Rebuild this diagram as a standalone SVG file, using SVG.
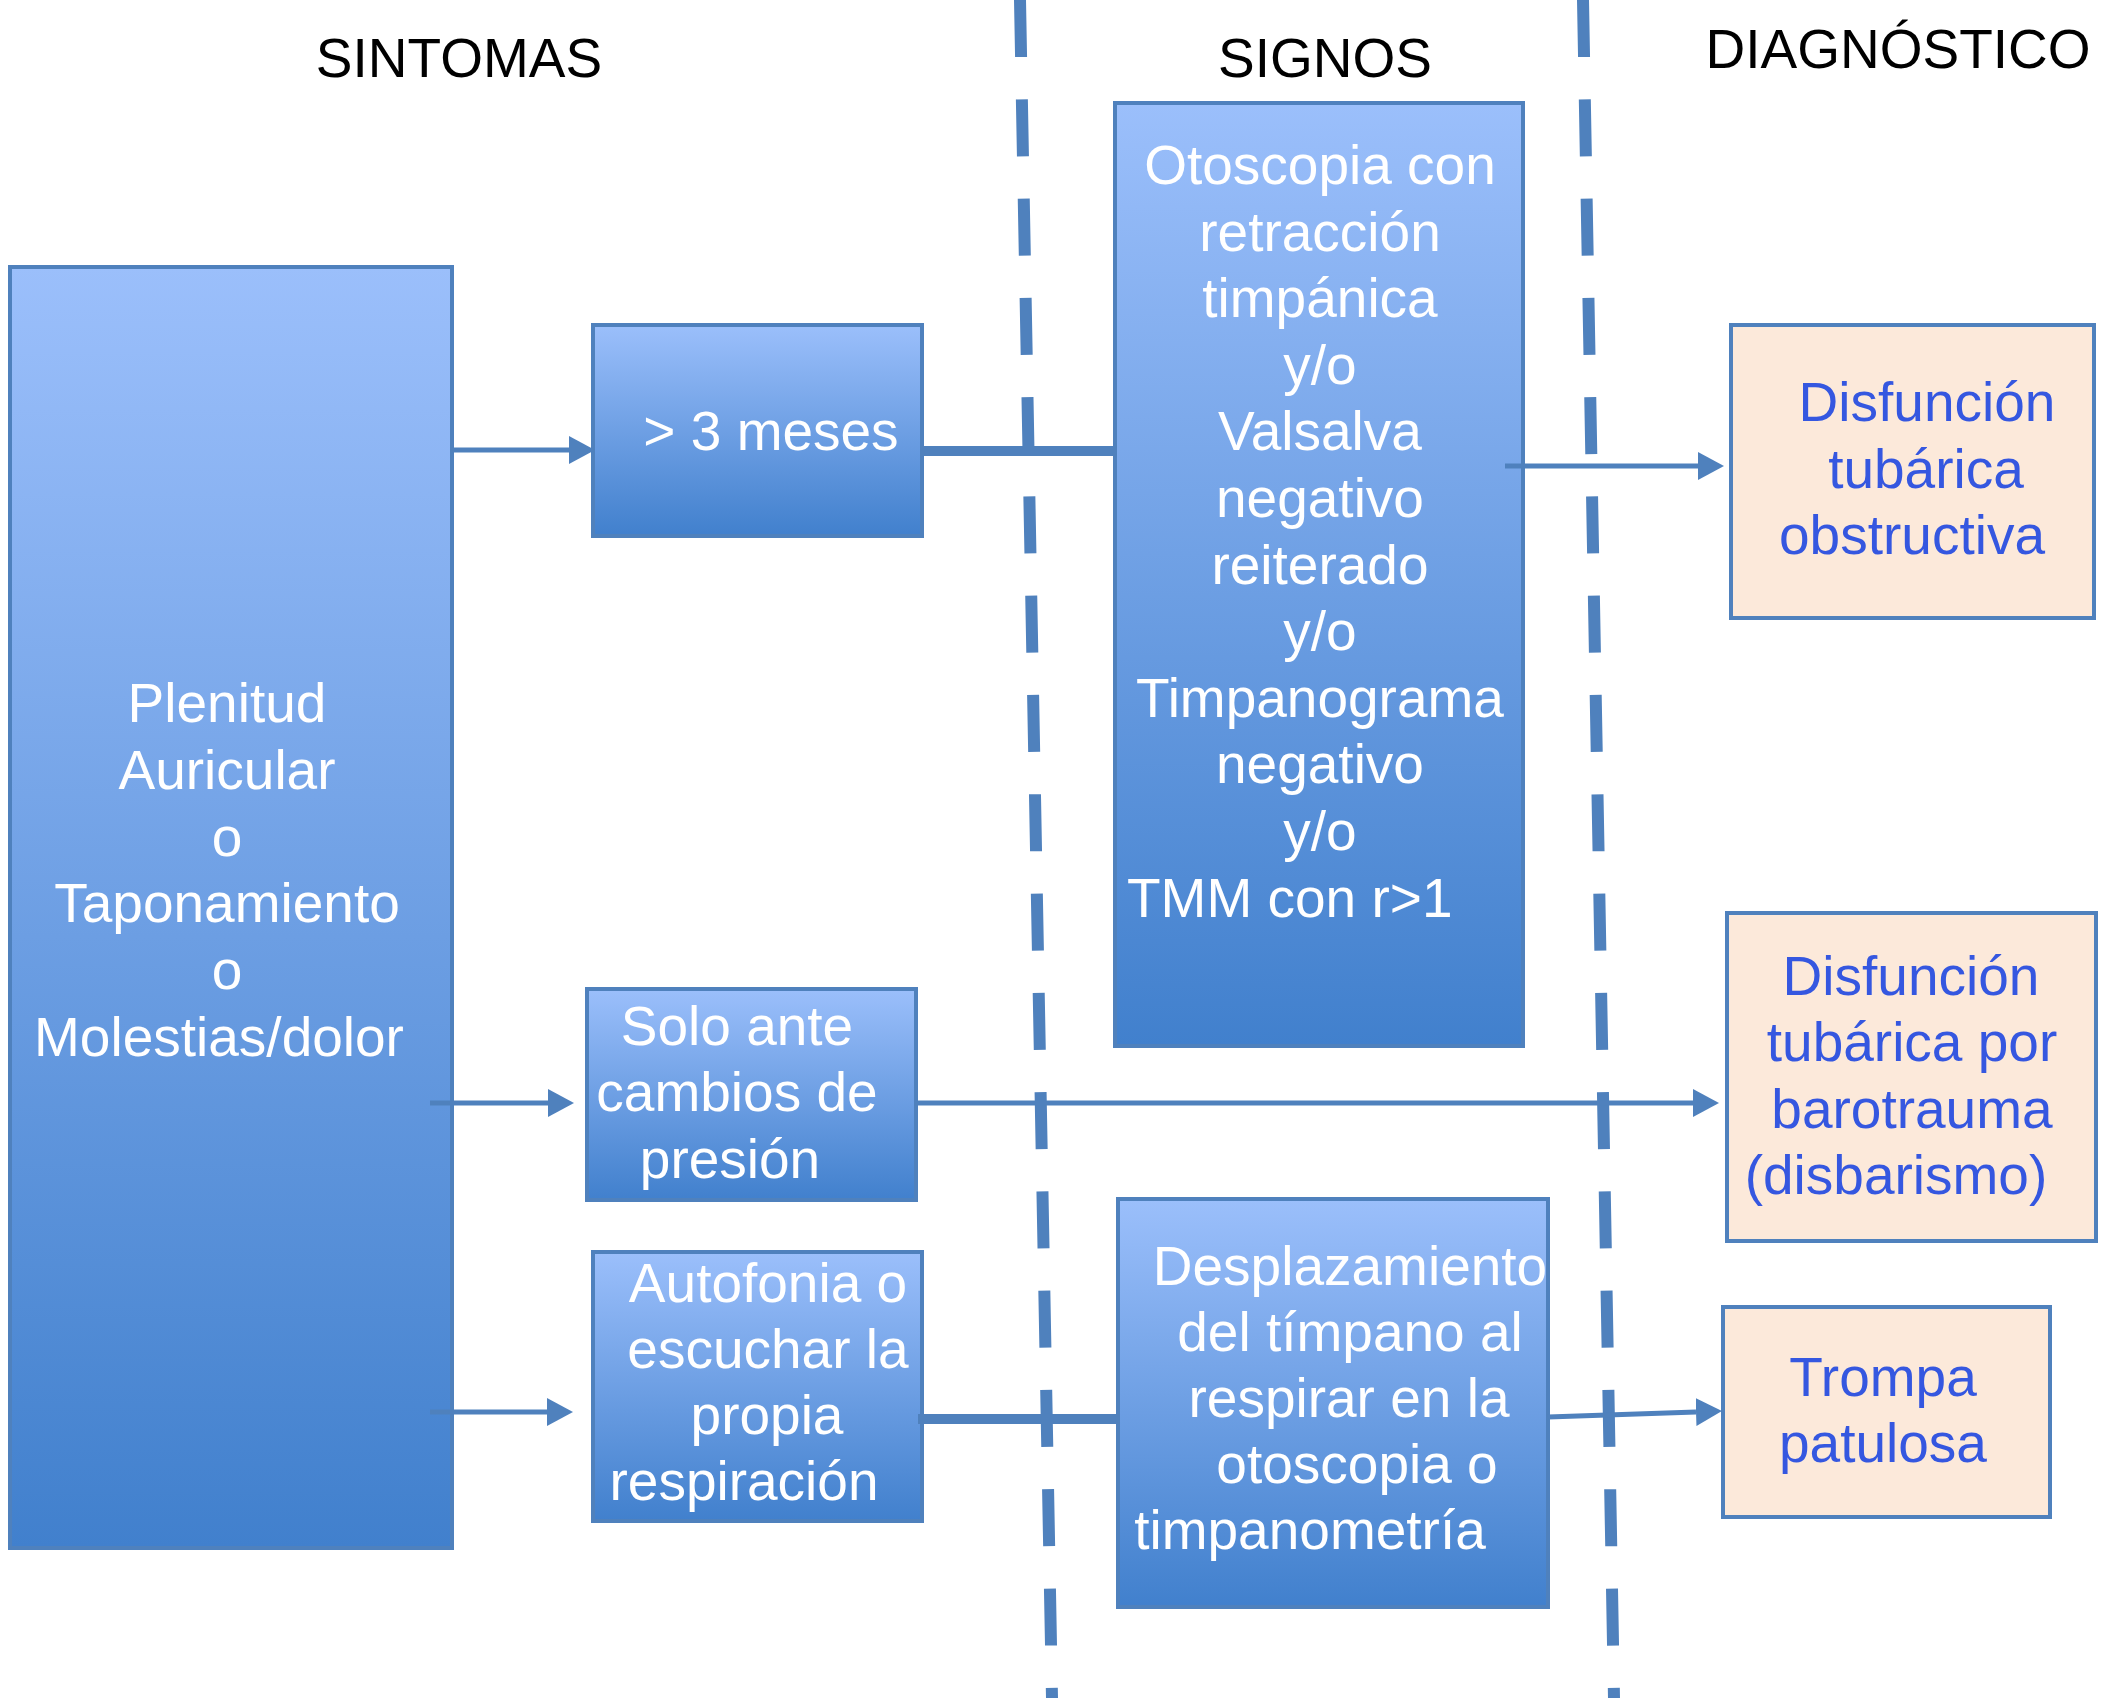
<svg xmlns="http://www.w3.org/2000/svg" width="2109" height="1698" viewBox="0 0 2109 1698">
<defs>
<linearGradient id="blueGrad" x1="0" y1="0" x2="0" y2="1">
<stop offset="0" stop-color="#9BBFFB"/>
<stop offset="1" stop-color="#4180CD"/>
</linearGradient>
<marker id="arr" markerUnits="userSpaceOnUse" markerWidth="27" markerHeight="30" refX="0" refY="15" orient="auto">
<path d="M0,1 L26,15 L0,29 z" fill="#4F81BD"/>
</marker>
<style>
.hdr{font-family:"Liberation Sans",Arial,sans-serif;font-size:55px;fill:#000;text-anchor:middle}
.bbox{fill:url(#blueGrad);stroke:#4F81BD;stroke-width:4}
.dbox{fill:#FCE9DA;stroke:#4F81BD;stroke-width:4}
.wt{font-family:"Liberation Sans",Arial,sans-serif;font-size:55px;fill:#FFFFFF;text-anchor:middle}
.bt{font-family:"Liberation Sans",Arial,sans-serif;font-size:55px;fill:#3557E0;text-anchor:middle}
.conn{stroke:#4F81BD;stroke-width:5;fill:none}
.thick{stroke:#4F81BD;stroke-width:10;fill:none}
.dash{stroke:#4F81BD;stroke-width:12;fill:none;stroke-dasharray:57 42.3}
</style>
</defs>
<rect width="2109" height="1698" fill="#FFFFFF"/>

<g id="headers">
<text class="hdr" x="459" y="77">SINTOMAS</text>
<text class="hdr" x="1325" y="77">SIGNOS</text>
<text class="hdr" x="1898" y="68">DIAGNÓSTICO</text>
</g>

<g id="dividers">
<line class="dash" x1="1020" y1="0" x2="1052" y2="1698"/>
<line class="dash" x1="1583" y1="0" x2="1614" y2="1698"/>
</g>

<g id="sintomas-main">
<rect class="bbox" x="10" y="267" width="442" height="1281"/>
<text class="wt" x="227" y="722">Plenitud</text>
<text class="wt" x="227" y="789">Auricular</text>
<text class="wt" x="227" y="856">o</text>
<text class="wt" x="227" y="922">Taponamiento</text>
<text class="wt" x="227" y="989">o</text>
<text class="wt" x="219" y="1056">Molestias/dolor</text>
</g>

<g id="meses">
<rect class="bbox" x="593" y="325" width="329" height="211"/>
<text class="wt" x="771" y="450">&gt; 3 meses</text>
</g>

<g id="solo-ante">
<rect class="bbox" x="587" y="989" width="329" height="211"/>
<text class="wt" x="737" y="1045">Solo ante</text>
<text class="wt" x="737" y="1111">cambios de</text>
<text class="wt" x="730" y="1178">presión</text>
</g>

<g id="autofonia">
<rect class="bbox" x="593" y="1252" width="329" height="269"/>
<text class="wt" x="768" y="1302">Autofonia o</text>
<text class="wt" x="768" y="1368">escuchar la</text>
<text class="wt" x="767" y="1434">propia</text>
<text class="wt" x="744" y="1500">respiración</text>
</g>

<g id="signos-main">
<rect class="bbox" x="1115" y="103" width="408" height="943"/>
<text class="wt" x="1320" y="184">Otoscopia con</text>
<text class="wt" x="1320" y="251">retracción</text>
<text class="wt" x="1320" y="317">timpánica</text>
<text class="wt" x="1320" y="384">y/o</text>
<text class="wt" x="1320" y="450">Valsalva</text>
<text class="wt" x="1320" y="517">negativo</text>
<text class="wt" x="1320" y="584">reiterado</text>
<text class="wt" x="1320" y="650">y/o</text>
<text class="wt" x="1320" y="717">Timpanograma</text>
<text class="wt" x="1320" y="783">negativo</text>
<text class="wt" x="1320" y="850">y/o</text>
<text class="wt" x="1127" y="917" text-anchor="start" style="text-anchor:start">TMM con r&gt;1</text>
</g>

<g id="desplazamiento">
<rect class="bbox" x="1118" y="1199" width="430" height="408"/>
<text class="wt" x="1350" y="1285">Desplazamiento</text>
<text class="wt" x="1350" y="1351">del tímpano al</text>
<text class="wt" x="1349" y="1417">respirar en la</text>
<text class="wt" x="1357" y="1483">otoscopia o</text>
<text class="wt" x="1310" y="1549">timpanometría</text>
</g>

<g id="diag-obstructiva">
<rect class="dbox" x="1731" y="325" width="363" height="293"/>
<text class="bt" x="1927" y="421">Disfunción</text>
<text class="bt" x="1926" y="488">tubárica</text>
<text class="bt" x="1912" y="554">obstructiva</text>
</g>

<g id="diag-barotrauma">
<rect class="dbox" x="1727" y="913" width="369" height="328"/>
<text class="bt" x="1911" y="995">Disfunción</text>
<text class="bt" x="1912" y="1061">tubárica por</text>
<text class="bt" x="1912" y="1128">barotrauma</text>
<text class="bt" x="1896" y="1194">(disbarismo)</text>
</g>

<g id="diag-patulosa">
<rect class="dbox" x="1723" y="1307" width="327" height="210"/>
<text class="bt" x="1883" y="1396">Trompa</text>
<text class="bt" x="1883" y="1462">patulosa</text>
</g>

<g id="connectors">
<line class="conn" x1="452" y1="450" x2="569" y2="450" marker-end="url(#arr)"/>
<line class="thick" x1="924" y1="451" x2="1116" y2="451"/>
<line class="conn" x1="1505" y1="466" x2="1698" y2="466" marker-end="url(#arr)"/>
<line class="conn" x1="430" y1="1103" x2="548" y2="1103" marker-end="url(#arr)"/>
<line class="conn" x1="918" y1="1103" x2="1693" y2="1103" marker-end="url(#arr)"/>
<line class="conn" x1="430" y1="1412" x2="547" y2="1412" marker-end="url(#arr)"/>
<line class="thick" x1="918" y1="1419" x2="1118" y2="1419"/>
<line class="conn" x1="1548" y1="1417" x2="1696" y2="1412" marker-end="url(#arr)"/>
</g>
</svg>
